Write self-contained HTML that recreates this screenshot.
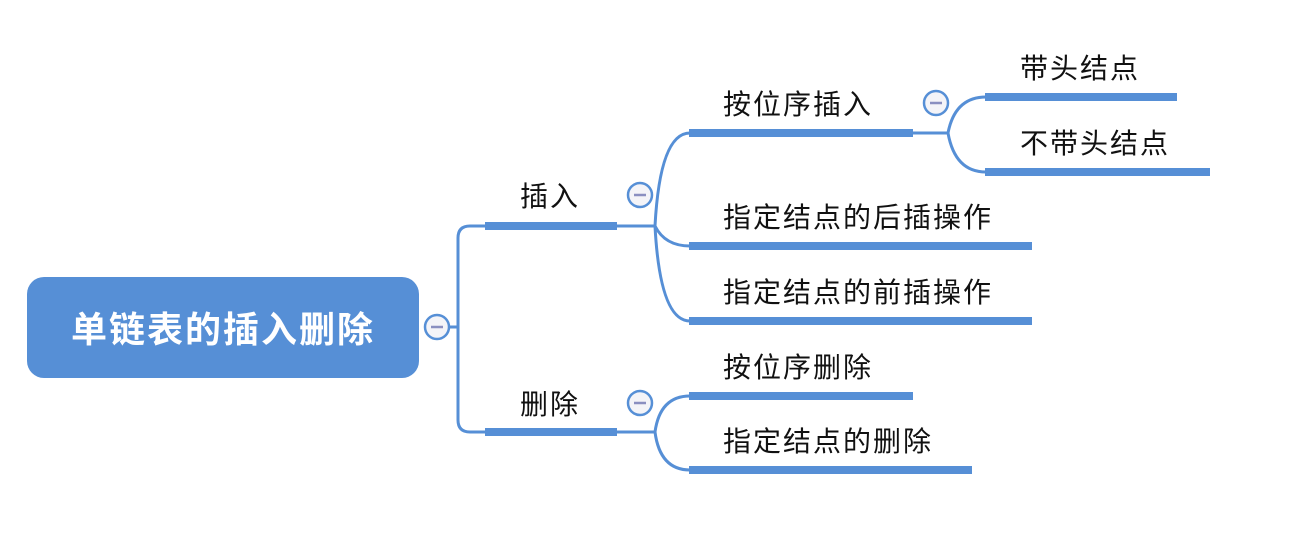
<!DOCTYPE html>
<html><head><meta charset="utf-8"><style>
html,body{margin:0;padding:0;background:#fff;}
svg{display:block}
text{font-family:"Liberation Sans","Noto Sans CJK SC",sans-serif;fill:#111;}
</style></head><body>
<svg width="1300" height="556" viewBox="0 0 1300 556" xmlns="http://www.w3.org/2000/svg">
<rect x="27" y="277" width="392" height="101" rx="17" fill="#568fd6"/>
<text x="223" y="342" font-size="36" font-weight="bold" text-anchor="middle" style="fill:#fff" letter-spacing="2">单链表的插入删除</text>
<g fill="none" stroke="#568fd6" stroke-width="3">
<path d="M449 327 H458"/>
<path d="M486 226 H470 Q458 226 458 238 V420 Q458 432 470 432 H486"/>
<path d="M617 226 H655"/>
<path d="M617 432 H655"/>
<path d="M690 133 Q660 133 655 226 Q660 321 690 321"/>
<path d="M655 226 Q665 246 690 246"/>
<path d="M690 396 Q660 396 655 432 Q660 470 690 470"/>
<path d="M913 133 H948"/>
<path d="M986 97 Q955 97 948 133 Q955 172 986 172"/>
</g>
<g fill="#568fd6">
<rect x="485" y="222" width="132" height="8"/>
<rect x="485" y="428" width="132" height="8"/>
<rect x="689" y="129" width="224" height="8"/>
<rect x="689" y="242" width="343" height="8"/>
<rect x="689" y="317" width="343" height="8"/>
<rect x="689" y="392" width="224" height="8"/>
<rect x="689" y="466" width="283" height="8"/>
<rect x="985" y="93" width="192" height="8"/>
<rect x="985" y="168" width="225" height="8"/>
</g>
<g fill="#f4f4f8" stroke="#568fd6" stroke-width="2.5">
<circle cx="437" cy="327" r="12"/>
<circle cx="640" cy="195" r="12"/>
<circle cx="640" cy="403" r="12"/>
<circle cx="936" cy="103" r="12"/>
</g>
<g stroke="#8a8fc0" stroke-width="2.5">
<path d="M431 327 H443"/><path d="M634 195 H646"/><path d="M634 403 H646"/><path d="M930 103 H942"/>
</g>
<g font-size="28" letter-spacing="2">
<text x="520" y="206">插入</text>
<text x="520" y="414">删除</text>
<text x="723" y="114">按位序插入</text>
<text x="723" y="227">指定结点的后插操作</text>
<text x="723" y="302">指定结点的前插操作</text>
<text x="723" y="377">按位序删除</text>
<text x="723" y="451">指定结点的删除</text>
<text x="1020" y="78">带头结点</text>
<text x="1020" y="153">不带头结点</text>
</g>
</svg>
</body></html>
